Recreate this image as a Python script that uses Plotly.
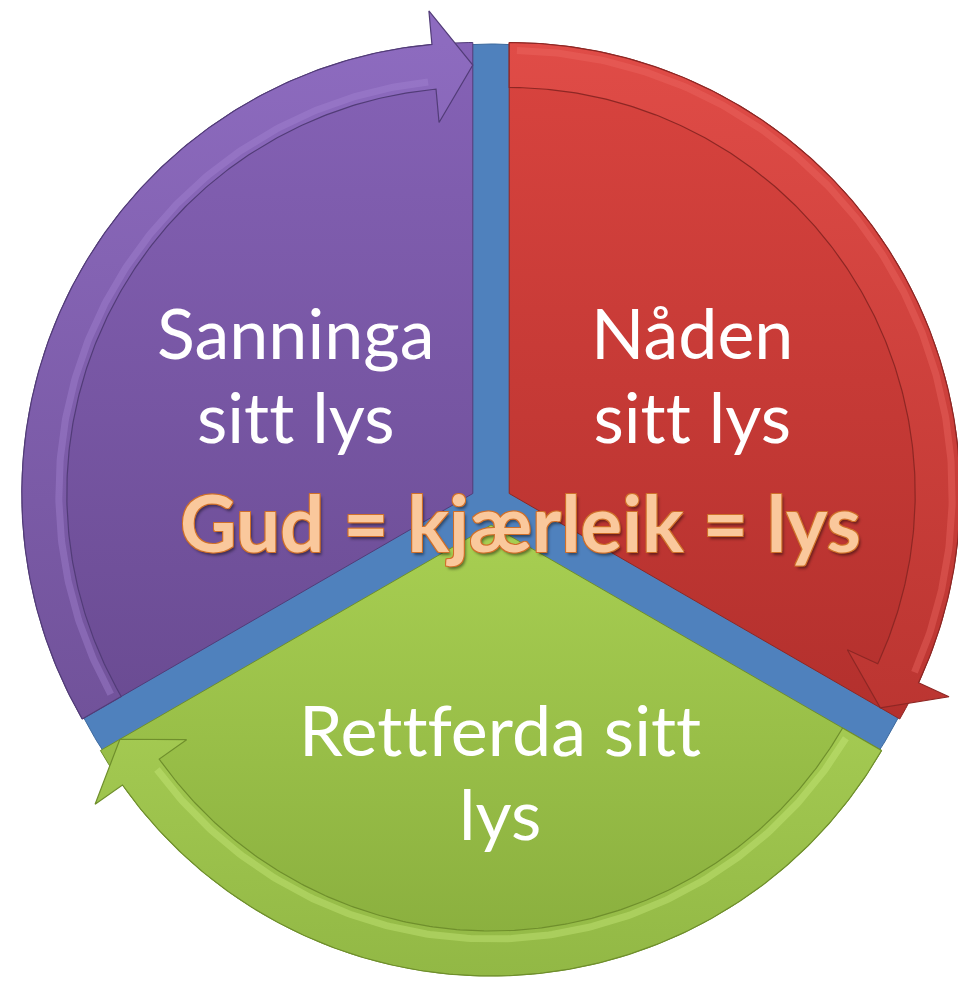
import numpy as np
import plotly.graph_objects as go

# ---------------- data ----------------
categories = ["Nåden<br>sitt lys", "Rettferda sitt<br>lys", "Sanninga<br>sitt lys"]
values = [1, 1, 1]
centre_text = "Gud = kjærleik = lys"

# ---------------- styles ----------------
slice_top = ["#D9443F", "#A8CF52", "#8562B6"]
slice_bot = ["#B3302D", "#88AD3D", "#6A4B92"]
band_top = ["#E04C47", "#B2D85C", "#8D6BBF"]
band_bot = ["#BB3531", "#92B845", "#71529A"]
edge_colors = ["#8E2724", "#6F8F2C", "#523C78"]
glow_colors = ["#EE6A64", "#CBEC7E", "#A686D4"]
hub_color = "#4F81BD"

W, H = 958, 985
CX, CY = 491, 504          # hub centre (px)
R_HUB = 460
R = 451
PULL = 21
BAND = 45
HEAD = 56
HEAD_ANG = 5.2
N = 240

LABEL_SIZE = 70
LINE_GAP = 84


def xy(ox, oy, r, deg):
    t = np.radians(deg)
    return CX + ox + r * np.cos(t), CY - (oy + r * np.sin(t))


fig = go.Figure()

# hub disk
ang = np.linspace(0, 360, 721)
hx, hy = xy(0, 0, R_HUB, ang)
fig.add_trace(go.Scatter(x=hx, y=hy, fill="toself", fillcolor=hub_color, mode="lines",
                         line=dict(color="#3D6A9E", width=1), hoverinfo="skip"))

total = float(sum(values))
cum = np.concatenate([[0.0], np.cumsum(values)])
for k, v in enumerate(values):
    a_start = 90 - 360 * cum[k] / total       # counter-clockwise end (tail)
    a_end = 90 - 360 * cum[k + 1] / total     # clockwise end (arrow tip)
    mid = (a_start + a_end) / 2
    ox, oy = PULL * np.cos(np.radians(mid)), PULL * np.sin(np.radians(mid))

    # wedge
    arc = np.linspace(a_start, a_end, N)
    ax_, ay_ = xy(ox, oy, R, arc)
    c0x, c0y = xy(ox, oy, 0, 0)
    sx = np.concatenate([[c0x], ax_, [c0x]])
    sy = np.concatenate([[c0y], ay_, [c0y]])
    fig.add_trace(go.Scatter(
        x=sx, y=sy, fill="toself", mode="lines",
        fillgradient=dict(type="vertical", start=float(sy.min()), stop=float(sy.max()),
                          colorscale=[[0, slice_top[k]], [1, slice_bot[k]]]),
        line=dict(color=edge_colors[k], width=1), hoverinfo="skip"))

    # curved arrow band along the rim
    r_in = R - BAND
    r_mid = R - BAND / 2
    a_base = a_end + HEAD_ANG
    arc_b = np.linspace(a_start, a_base, N)
    ox1, oy1 = xy(ox, oy, R, arc_b)
    ix1, iy1 = xy(ox, oy, r_in, arc_b[::-1])
    wox, woy = xy(ox, oy, r_mid + HEAD, a_base)
    tx, ty = xy(ox, oy, r_mid, a_end)
    wix, wiy = xy(ox, oy, r_mid - HEAD, a_base)
    bx = np.concatenate([ox1, [wox, tx, wix], ix1, [ox1[0]]])
    by = np.concatenate([oy1, [woy, ty, wiy], iy1, [oy1[0]]])
    fig.add_trace(go.Scatter(
        x=bx, y=by, fill="toself", mode="lines",
        fillgradient=dict(type="vertical", start=float(sy.min()), stop=float(sy.max()),
                          colorscale=[[0, band_top[k]], [1, band_bot[k]]]),
        line=dict(color=edge_colors[k], width=1.2), hoverinfo="skip"))
    # bevel highlight
    r_gl = R - 8 if mid > 0 else r_in + 8
    gx, gy = xy(ox, oy, r_gl, np.linspace(a_start - 1, a_base + 1, N))
    fig.add_trace(go.Scatter(x=gx, y=gy, mode="lines", line=dict(color=glow_colors[k], width=7),
                             opacity=0.4, hoverinfo="skip"))

# ---------------- texts ----------------
label_pos = [(692, 374), (500, 771), (295, 374)]
for k, cat in enumerate(categories):
    xc, yc = label_pos[k]
    txt = "<br>".join(
        f'<span style="font-size:{LABEL_SIZE}px;font-variant-ligatures:none">{ln}</span>'
        for ln in cat.split("<br>"))
    fig.add_annotation(x=xc, y=yc, text=txt, showarrow=False, xanchor="center", yanchor="middle",
                       font=dict(family="Lato", size=LINE_GAP / 1.3, color="white"))

oc = "#D0702A"
fig.add_annotation(x=520, y=522, text=centre_text, showarrow=False, xanchor="center", yanchor="middle",
                   font=dict(family="Lato", size=78, color="#FAC89C", weight=700,
                             shadow=(f"-1px -1px 0 {oc}, 1px -1px 0 {oc}, -1px 1px 0 {oc}, 1px 1px 0 {oc}, "
                                     "2px 3px 3px rgba(0,0,0,0.45)")))

fig.update_layout(
    width=W, height=H, margin=dict(l=0, r=0, t=0, b=0),
    paper_bgcolor="white", plot_bgcolor="white", showlegend=False,
    xaxis=dict(range=[0, W], visible=False, fixedrange=True),
    yaxis=dict(range=[H, 0], visible=False, fixedrange=True),
)
fig.write_html("out.html", config={"displayModeBar": False},
               post_script="document.body.style.margin='0';")
